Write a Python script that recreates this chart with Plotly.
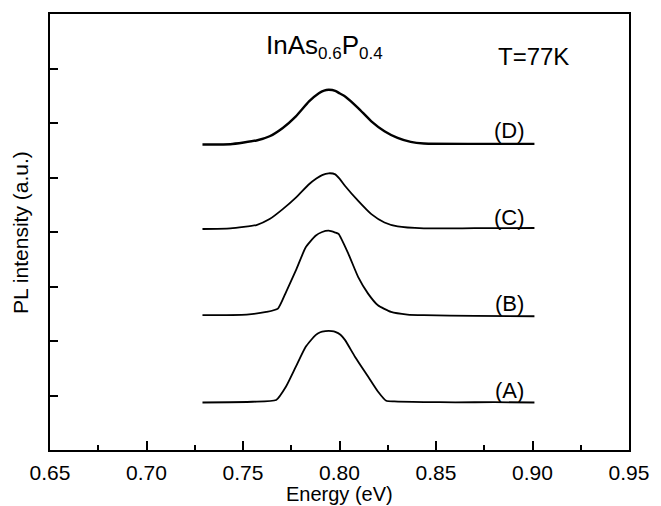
import plotly.graph_objects as go

# Photoluminescence spectra of InAs0.6P0.4 at 77 K, curves (A)-(D) stacked with offsets
energy_a = [0.729, 0.755, 0.7672, 0.7723, 0.7774, 0.7825, 0.7876, 0.7900, 0.7927, 0.7944,
            0.7960, 0.7978, 0.8005, 0.8029, 0.8080, 0.8148, 0.8199, 0.8242, 0.8284,
            0.8437, 0.860, 0.880, 0.901]
intensity_a = [-0.128, -0.115, -0.084, 0.164, 0.529, 0.894, 1.108, 1.160, 1.181, 1.186,
               1.182, 1.168, 1.115, 1.016, 0.712, 0.347, 0.073, -0.097, -0.109,
               -0.120, -0.125, -0.122, -0.128]

energy_b = [0.729, 0.7519, 0.7621, 0.7681, 0.7723, 0.7774, 0.7825, 0.7876, 0.7910, 0.7944,
            0.7978, 0.7995, 0.8046, 0.8097, 0.8148, 0.8199, 0.8267, 0.8352, 0.8437,
            0.870, 0.901]
intensity_b = [1.473, 1.485, 1.533, 1.595, 1.898, 2.294, 2.719, 2.932, 3.000, 3.024,
               2.990, 2.964, 2.599, 2.172, 1.869, 1.655, 1.533, 1.485, 1.473,
               1.462, 1.454]

energy_c = [0.729, 0.7434, 0.7570, 0.7638, 0.7706, 0.7774, 0.7842, 0.7880, 0.7910, 0.7944,
            0.7978, 0.8000, 0.8029, 0.8097, 0.8165, 0.8233, 0.8301, 0.8437, 0.870, 0.901]
intensity_c = [3.055, 3.066, 3.128, 3.237, 3.420, 3.631, 3.876, 3.980, 4.045, 4.077,
               4.058, 3.980, 3.845, 3.571, 3.328, 3.175, 3.102, 3.066, 3.070, 3.073]

energy_d = [0.729, 0.7434, 0.7570, 0.7638, 0.7706, 0.7774, 0.7842, 0.7893, 0.7920, 0.7944,
            0.7978, 0.8000, 0.8029, 0.8097, 0.8165, 0.8233, 0.8301, 0.8369, 0.8437, 0.870, 0.901]
intensity_d = [4.606, 4.611, 4.679, 4.757, 4.909, 5.122, 5.396, 5.547, 5.595, 5.609,
               5.591, 5.545, 5.487, 5.274, 5.031, 4.849, 4.726, 4.653, 4.624, 4.617, 4.617]

curve_names = ["(A)", "(B)", "(C)", "(D)"]
label_energy = 0.888
label_level = [0.086, 1.692, 3.261, 4.868]

x_ticks = [0.65, 0.70, 0.75, 0.80, 0.85, 0.90, 0.95]
y_ticks = [0, 1, 2, 3, 4, 5, 6]

FONT = "Liberation Sans, Arial, sans-serif"

fig = go.Figure()
series = [(energy_a, intensity_a, 1.8), (energy_b, intensity_b, 1.8),
          (energy_c, intensity_c, 1.8), (energy_d, intensity_d, 2.4)]
for (ex, iy, w), name in zip(series, curve_names):
    fig.add_trace(go.Scatter(x=ex, y=iy, mode="lines", name=name,
                             line=dict(color="black", width=w, shape="spline", smoothing=0.5),
                             showlegend=False, hoverinfo="skip"))

for name, lv in zip(curve_names, label_level):
    fig.add_annotation(x=label_energy, y=lv, text=name, showarrow=False,
                       font=dict(family=FONT, size=22, color="black"),
                       xanchor="center", yanchor="middle")

fig.add_annotation(x=0.792, y=6.40,
                   text="InAs<sub><span style='font-size:17px'>0.6</span></sub>"
                        "P<sub><span style='font-size:17px'>0.4</span></sub>",
                   showarrow=False, font=dict(family=FONT, size=26, color="black"),
                   xanchor="center", yanchor="middle")
fig.add_annotation(x=0.9006, y=6.217, text="T=77K", showarrow=False,
                   font=dict(family=FONT, size=24, color="black"),
                   xanchor="center", yanchor="middle")

# axis titles
fig.add_annotation(xref="paper", yref="paper", x=0.5, y=-0.1279, text="Energy (eV)",
                   showarrow=False, font=dict(family=FONT, size=20, color="black"),
                   xanchor="center", yanchor="bottom", borderpad=0)
fig.add_annotation(xref="paper", yref="paper", x=-0.052, y=0.5, text="PL intensity (a.u.)",
                   textangle=-90, showarrow=False,
                   font=dict(family=FONT, size=21, color="black"),
                   xanchor="center", yanchor="middle")

fig.update_xaxes(range=[0.65, 0.95], tickvals=x_ticks,
                 ticktext=[f"{v:.2f}" for v in x_ticks],
                 ticks="inside", ticklen=9, tickwidth=2, tickcolor="black",
                 ticklabelstandoff=3,
                 minor=dict(dtick=0.025, tick0=0.65, ticks="inside", ticklen=5,
                            tickwidth=2, tickcolor="black", showgrid=False),
                 showline=True, linewidth=2, linecolor="black", mirror=True,
                 showgrid=False, zeroline=False,
                 tickfont=dict(family=FONT, size=21, color="black"))
fig.update_yaxes(range=[-1, 7], tickvals=y_ticks, showticklabels=False,
                 ticks="inside", ticklen=8, tickwidth=2, tickcolor="black",
                 showline=True, linewidth=2, linecolor="black", mirror=True,
                 showgrid=False, zeroline=False)

fig.update_layout(width=661, height=506, margin=dict(l=50, r=21, t=12, b=56),
                  plot_bgcolor="white", paper_bgcolor="white")

fig.write_html("out.html")
